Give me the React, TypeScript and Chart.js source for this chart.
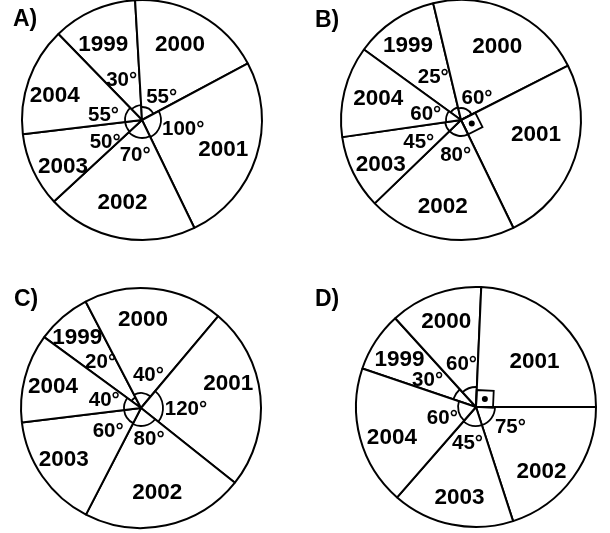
import React, { useEffect, useRef } from "react";
import { Chart, registerables } from "chart.js";

Chart.register(...registerables);

// ---------- data ----------
const categories = ["1999", "2000", "2001", "2002", "2003", "2004"];

// drawn sector sizes (degrees), order 1999..2004
const sectorsA = [40.9, 65.2, 92.2, 73.1, 36, 52.6];
const sectorsB = [40.6, 76.5, 91, 71.9, 35.8, 44.2];
const sectorsC = [26.3, 67.6, 88.4, 78.8, 55.8, 43.1];
const sectorsD = [29, 44.8, 87.5, 72, 59.1, 67.6];

// annotated angles ("" = right-angle mark)
const degreesA = ["30°", "55°", "100°", "70°", "50°", "55°"];
const degreesB = ["25°", "60°", "", "80°", "45°", "60°"];
const degreesC = ["20°", "40°", "120°", "80°", "60°", "40°"];
const degreesD = ["30°", "60°", "", "75°", "45°", "60°"];

const panelLetters = ["A)", "B)", "C)", "D)"];

// ---------- layout ----------
const W = 610;
const H = 533;
const R = 120;

type Panel = {
  letter: string;
  data: number[];
  degrees: string[];
  rotation: number; // compass angle where the 1999 sector starts
  cx: number;
  cy: number;
  letterPos: [number, number];
  yearPolar: [number, number][]; // [angle nudge deg, radius px]
  degPolar: [number, number][];
  markR: number[]; // small angle arc radius, 0 = none
  squareSide: number[]; // right-angle square side, 0 = none
};

const panels: Panel[] = [
  {
    letter: panelLetters[0],
    data: sectorsA,
    degrees: degreesA,
    rotation: 315.8,
    cx: 142,
    cy: 120,
    letterPos: [13, 26],
    yearPolar: [[-3, 86], [-3, 86], [1, 86], [3, 83], [-5, 91], [-3, 91]],
    degPolar: [[-2.5, 46], [10, 31], [-7, 42], [1, 34], [-4, 42], [-10.5, 39]],
    markR: [15, 13, 19, 18, 17, 17],
    squareSide: [0, 0, 0, 0, 0, 0],
  },
  {
    letter: panelLetters[1],
    data: sectorsB,
    degrees: degreesB,
    rotation: 306,
    cx: 461,
    cy: 120,
    letterPos: [315, 26.5],
    yearPolar: [[-1, 93], [1, 83], [-9, 76], [2, 87], [-2, 91], [2, 86]],
    degPolar: [[1.5, 52], [10, 28], [0, 0], [-1, 34], [0, 47], [-2, 36]],
    markR: [13, 12, 0, 16, 16, 15],
    squareSide: [0, 0, 16, 0, 0, 0],
  },
  {
    letter: panelLetters[2],
    data: sectorsC,
    degrees: degreesC,
    rotation: 306.2,
    cx: 141,
    cy: 408,
    letterPos: [14, 306],
    yearPolar: [[-1, 96], [-5, 90], [-11, 91], [1, 84], [2, 92], [0, 91]],
    degPolar: [[0, 62], [6, 35], [5, 45], [-3, 31], [2, 39], [0, 38]],
    markR: [12, 15, 22, 18, 17, 17],
    squareSide: [0, 0, 0, 0, 0, 0],
  },
  {
    letter: panelLetters[3],
    data: sectorsD,
    degrees: degreesD,
    rotation: 288.7,
    cx: 476,
    cy: 407,
    letterPos: [315, 306],
    yearPolar: [[-0.5, 91], [1, 92], [5, 75], [8, 91], [-1, 90], [-4, 89]],
    degPolar: [[-3, 56], [2, 47], [0, 0], [-8, 39], [2, 36], [-1, 35]],
    markR: [24, 20, 0, 19, 19, 18],
    squareSide: [0, 0, 17, 0, 0, 0],
  },
];

const FONT = "'Liberation Sans', Arial, Helvetica, sans-serif";
const YEAR_SIZE = 22.5;
const DEG_SIZE = 20.5;
const LETTER_SIZE = 23;

function makePlugin(p: Panel) {
  return {
    id: "annot",
    afterDatasetsDraw(chart: any) {
      const ctx: CanvasRenderingContext2D = chart.ctx;
      const meta = chart.getDatasetMeta(0);
      ctx.save();
      ctx.strokeStyle = "#000";
      ctx.fillStyle = "#000";
      ctx.lineWidth = 1.8;
      meta.data.forEach((el: any, i: number) => {
        const { x, y, startAngle, endAngle } = el.getProps(
          ["x", "y", "startAngle", "endAngle"],
          true
        );
        const mid = (startAngle + endAngle) / 2;
        // angle marks
        const side = p.squareSide[i];
        if (side > 0) {
          const ux = Math.cos(startAngle), uy = Math.sin(startAngle);
          const vx = Math.cos(startAngle + Math.PI / 2), vy = Math.sin(startAngle + Math.PI / 2);
          ctx.beginPath();
          ctx.moveTo(x, y);
          ctx.lineTo(x + side * ux, y + side * uy);
          ctx.lineTo(x + side * (ux + vx), y + side * (uy + vy));
          ctx.lineTo(x + side * vx, y + side * vy);
          ctx.closePath();
          ctx.stroke();
          ctx.beginPath();
          ctx.arc(x + (side / 2) * (ux + vx), y + (side / 2) * (uy + vy), 3, 0, Math.PI * 2);
          ctx.fill();
        } else if (p.markR[i] > 0) {
          ctx.beginPath();
          ctx.arc(x, y, p.markR[i], startAngle, endAngle);
          ctx.stroke();
        }
        // year label
        ctx.textAlign = "center";
        ctx.textBaseline = "alphabetic";
        ctx.font = `bold ${YEAR_SIZE}px ${FONT}`;
        const [yd, yr] = p.yearPolar[i];
        const ya = mid + (yd * Math.PI) / 180;
        ctx.fillText(categories[i], x + yr * Math.cos(ya), y + yr * Math.sin(ya) + 0.36 * YEAR_SIZE);
        // degree label
        if (p.degrees[i]) {
          ctx.font = `bold ${DEG_SIZE}px ${FONT}`;
          const [dd, dr] = p.degPolar[i];
          const da = mid + (dd * Math.PI) / 180;
          ctx.fillText(p.degrees[i], x + dr * Math.cos(da), y + dr * Math.sin(da) + 0.36 * DEG_SIZE);
        }
      });
      // panel letter
      ctx.textAlign = "left";
      ctx.textBaseline = "alphabetic";
      ctx.font = `bold ${LETTER_SIZE}px ${FONT}`;
      ctx.fillText(p.letter, p.letterPos[0], p.letterPos[1]);
      ctx.restore();
    },
  };
}

function PiePanel({ p }: { p: Panel }) {
  const ref = useRef<HTMLCanvasElement | null>(null);
  useEffect(() => {
    if (!ref.current) return;
    const chart = new Chart(ref.current, {
      type: "pie",
      data: {
        labels: categories,
        datasets: [
          {
            data: p.data,
            backgroundColor: "#ffffff",
            borderColor: "#000000",
            borderWidth: 2,
            clip: false as any,
          },
        ],
      },
      options: {
        responsive: false,
        maintainAspectRatio: false,
        animation: false,
        events: [],
        rotation: p.rotation,
        radius: R,
        layout: {
          padding: {
            left: p.cx - R,
            right: W - p.cx - R,
            top: p.cy - R,
            bottom: H - p.cy - R,
          },
        },
        plugins: {
          legend: { display: false },
          tooltip: { enabled: false },
        },
      } as any,
      plugins: [makePlugin(p)],
    });
    return () => chart.destroy();
  }, [p]);
  return (
    <canvas
      ref={ref}
      width={W}
      height={H}
      style={{ position: "absolute", left: 0, top: 0, width: W, height: H }}
    />
  );
}

export default function App() {
  return (
    <div
      style={{
        position: "absolute",
        left: 0,
        top: 0,
        width: W,
        height: H,
        background: "#ffffff",
        overflow: "hidden",
      }}
    >
      {panels.map((p) => (
        <PiePanel key={p.letter} p={p} />
      ))}
    </div>
  );
}
